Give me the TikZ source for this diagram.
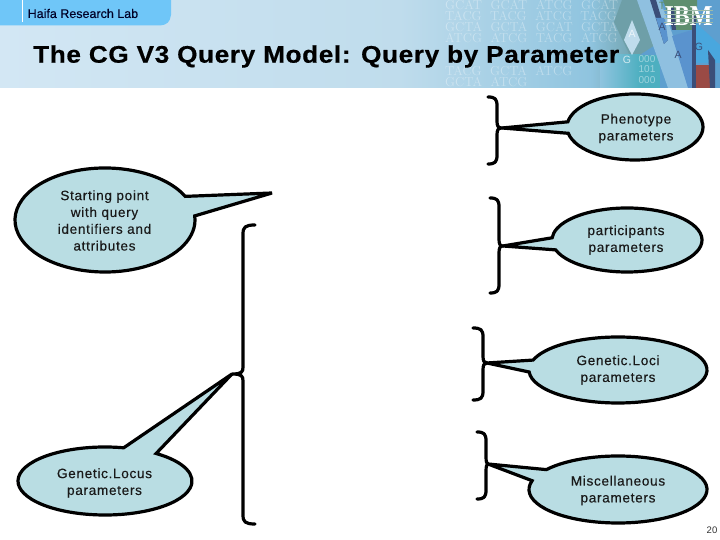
\documentclass[tikz,border=0pt]{standalone}
\usepackage{fontspec}
\setmainfont{Liberation Sans}
\newfontfamily\titlefont[LetterSpace=2.4,FakeBold=0.5]{Liberation Sans Bold}
\newfontfamily\bodyfont[LetterSpace=5,FakeBold=0.25]{Liberation Sans}
\newfontfamily\tabfont[FakeBold=0.2]{Liberation Sans}
\newfontfamily\logofont{Liberation Serif}
\definecolor{bubble}{HTML}{B9DDE3}
\definecolor{tabblue}{HTML}{6FC6F8}
\definecolor{headL}{HTML}{D3E7F4}
\definecolor{headM}{HTML}{BFDCEC}
\definecolor{headR}{HTML}{8FC4DF}
\definecolor{rbPale}{HTML}{8FC0E0}
\definecolor{rbBlue}{HTML}{5A93CE}
\definecolor{rbBase}{HTML}{5E9FCF}
\definecolor{rbGreen}{HTML}{5E8E6F}
\definecolor{rbCyan}{HTML}{49A7DE}
\definecolor{rbRed}{HTML}{9A4A45}
\definecolor{rbDark}{HTML}{3B4E78}
\definecolor{rbTeal}{HTML}{6E9FA8}
\definecolor{rbLow}{HTML}{4DAFC0}
\tikzset{
  callout/.style={draw=black,line width=3.2pt,fill=bubble,line join=miter,miter limit=6},
  bracepath/.style={draw=black,line width=3.2pt,line cap=round,line join=round},
  bubbletext/.style={font=\bodyfont\fontsize{13.6}{16.8}\selectfont,align=center,inner sep=0pt,text=black!90},
  dnatext/.style={font=\fontfamily{lmr}\fontsize{13}{13}\selectfont,text=white,opacity=0.35,inner sep=0pt,anchor=west},
  hdrletter/.style={inner sep=0pt,font=\fontsize{10.5}{10.5}\selectfont,text=rbDark},
  digits/.style={inner sep=0pt,font=\fontsize{10}{10}\selectfont,text=white,opacity=.45}
}
% centre x, centre y (from top), rx, ry, start angle, end angle, tip name
\newcommand{\bubbleshape}[7]{%
  \draw[callout] (#1,540-#2) ++(#5:#3 and #4) arc[start angle=#5,end angle=#6,x radius=#3,y radius=#4] -- (#7) -- cycle;}
% top x, spine x, top y, mid y, bottom y, tip name
\newcommand{\sidebrace}[6]{%
  \draw[bracepath] (#1,540-#3) .. controls ({#2+0.2*(#1-#2)},540-#3) and (#2,540-#3-2) .. (#2,540-#3-9)
    -- (#2,540-#4+7) .. controls (#2,540-#4+2) and ({#2-0.1*(#1-#2)},540-#4) .. (#6)
    .. controls ({#2-0.1*(#1-#2)},540-#4) and (#2,540-#4-2) .. (#2,540-#4-7)
    -- (#2,540-#5+9) .. controls (#2,540-#5+2) and ({#2+0.2*(#1-#2)},540-#5) .. (#1,540-#5);}
\begin{document}
\begin{tikzpicture}[x=1pt,y=1pt]
\useasboundingbox (0,0) rectangle (720,540);
\fill[white] (0,0) rectangle (720,540);
% header band
\begin{scope}
\clip (0,452) rectangle (720,540);
\shade[left color=headL,right color=headM] (0,452) rectangle (400,540);
\shade[left color=headM,right color=headR] (400,452) rectangle (590,540);
\shade[left color=headR,right color=rbTeal] (590,452) rectangle (640,540);
\fill[rbBase] (640,452) rectangle (720,540);
\foreach \yy/\s in {535/{GCAT\ \ GCAT\ \ ATCG\ \ GCAT},524/{TACG\ \ TACG\ \ ATCG\ \ TACG},513/{GCTA\ \ GCTA\ \ GCAT\ \ GCTA},502/{ATCG\ \ ATCG\ \ TACG\ \ ATCG}}{
  \node[dnatext] at (445,\yy) {\s};
}
\node[dnatext] at (445,469) {TACG\ \ GCTA\ \ ATCG};
\node[dnatext] at (445,458) {GCTA\ \ ATCG};
\end{scope}
% ribbons, in coordinates from the top
\begin{scope}[yshift=540pt,y=-1pt]
\clip (0,0) rectangle (720,88);
\fill[rbTeal] (622,0) -- (642,0) -- (655,45) -- (632,60) -- (614,22) -- cycle;
\shade[left color=headR,right color=rbLow] (600,55) rectangle (640,88);
\fill[rbLow] (640,55) rectangle (660,88);
\fill[headM] (632,20) -- (640,40) -- (632,55) -- (624,40) -- cycle;
\fill[rbPale] (637,0) -- (660,0) -- (692,88) -- (668,88) -- cycle;
\fill[rbDark] (650,0) -- (656,0) -- (668,40) -- (664,44) -- cycle;
\fill[rbBlue] (656,18) -- (665,18) -- (668,40) -- (664,44) -- cycle;
\fill[rbGreen] (663,0) -- (697,0) -- (697,30) -- (675,30) -- (668,15) -- cycle;
\fill[rbDark] (668,8) -- (674,8) -- (676,30) -- (672,30) -- cycle;
\fill[rbBlue] (672,36) -- (692,30) -- (692,88) -- (688,88) -- cycle;
\fill[rbDark] (692,16) -- (696,16) -- (696,88) -- (692,88) -- cycle;
\fill[rbCyan] (696,23) -- (720,45) -- (720,63) -- (696,63) -- cycle;
\fill[rbRed] (696,65) -- (710,65) -- (710,88) -- (696,88) -- cycle;
\fill[rbDark] (708,50) -- (715,60) -- (715,88) -- (710,88) -- cycle;
\node[hdrletter,text=rbGreen] (ltrT) at (662,5.5) {T};
\node[hdrletter,text=white,opacity=.7] (ltrA) at (632,34) {A};
\node[hdrletter] (ltrB) at (662,27) {A};
\node[hdrletter] (ltrC) at (678,55) {A};
\node[hdrletter] (ltrG) at (699,47) {G};
\node[hdrletter,text=white,opacity=.7] (ltrH) at (627,60) {G};
\node[digits] (dgA) at (647,59) {000};
\node[digits] (dgB) at (647,69) {101};
\node[digits] (dgC) at (647,80) {000};
\node[inner sep=0pt,text=white,font=\logofont\bfseries\fontsize{24}{24}\selectfont,yscale=1.2] (ibm) at (688.5,16.5) {IBM};
\foreach \yy in {10,14,18,22}{
  \draw[rbGreen!60!white,line width=0.5pt] (664,\yy) -- (713,\yy);
}
\end{scope}
% tab
\fill[tabblue] (0,540) -- (171,540) -- (171,525) .. controls (170,518) and (167,515) .. (160,514.5) -- (0,514.5) -- cycle;
\draw[white,line width=0.8pt] (22.5,540) -- (22.5,518);
\node[anchor=west,inner sep=0pt,font=\tabfont\fontsize{12.5}{12}\selectfont,text=black!85!blue] (lab) at (27.5,526.5) {Haifa Research Lab};
\node[anchor=west,inner sep=0pt,xscale=1.09,font=\titlefont\fontsize{24}{24}\selectfont] (title) at (33,483.5) {The CG V3 Query Model: Query by Parameter};
% tips
\coordinate (tipP) at (502,412);
\coordinate (tipQ) at (503,294);
\coordinate (tipL) at (487,177);
\coordinate (tipM) at (488,76);
\coordinate (tipS) at (272,347);
\coordinate (tipG) at (232,166);
% braces
\sidebrace{488}{497}{97}{128}{164}{tipP}
\sidebrace{490}{499}{198}{246}{293}{tipQ}
\sidebrace{473}{483}{328}{363}{400}{tipL}
\sidebrace{477}{486}{432}{464}{499}{tipM}
\sidebrace{255}{243}{225}{374}{524}{tipG}
% bubbles
\bubbleshape{635}{127}{68}{33}{191}{531}{tipP}
\bubbleshape{627}{240}{75}{32}{198}{536}{tipQ}
\bubbleshape{618}{370}{89}{33}{183.5}{522.5}{tipL}
\bubbleshape{618}{489.5}{89}{33.5}{164.8}{503.6}{tipM}
\bubbleshape{105}{220}{90}{52}{27}{364.5}{tipS}
\bubbleshape{105}{481}{87}{34}{77.6}{414}{tipG}
% texts
\node[bubbletext] (tP) at (636,540-128.5) {Phenotype\\parameters};
\node[bubbletext] (tQ) at (626,540-240) {participants\\parameters};
\node[bubbletext] (tL) at (618,540-370) {Genetic.Loci\\parameters};
\node[bubbletext] (tM) at (618,540-490.5) {Miscellaneous\\parameters};
\node[bubbletext] (tS) at (104.5,540-220.5) {Starting point\\with query\\identifiers and\\attributes};
\node[bubbletext] (tG) at (104.5,540-483) {Genetic.Locus\\parameters};
\node[inner sep=0pt,font=\fontsize{9.5}{10}\selectfont,text=black!80] (pg) at (712,9.5) {20};
\end{tikzpicture}
\end{document}
